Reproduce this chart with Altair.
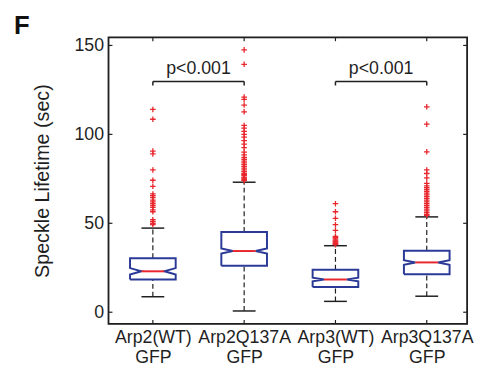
import altair as alt
import pandas as pd

# ---------------- data ----------------
positions = [1, 2, 3, 4]
cat_line1 = ["Arp2(WT)", "Arp2Q137A", "Arp3(WT)", "Arp3Q137A"]
cat_line2 = ["GFP", "GFP", "GFP", "GFP"]

q1 = [18.4, 26.1, 14.2, 21.4]
median = [23.0, 34.4, 18.4, 28.0]
q3 = [30.4, 45.1, 23.9, 34.6]
notch_half = [1.8, 1.4, 1.0, 1.3]
whisker_lo = [8.7, 0.7, 6.1, 9.0]
whisker_hi = [47.3, 73.1, 37.4, 53.6]

outliers_arp2_wt = [114, 108.5, 90.6, 89, 80, 74.2, 70.8, 66.5, 65.5, 64.5, 63,
                    62, 61, 60, 59, 57.5, 56.5, 52, 51, 50, 49.3]
outliers_arp2_q137a = [147.5, 139.4, 121, 119.7, 116.5, 112.7, 105, 103.5, 101.7,
                       100, 98.5, 96.5, 94.5, 92.5, 90, 88.5, 87, 86, 85, 84, 83,
                       82, 81, 80, 79, 78, 77.5, 77, 76, 75.5, 75, 74.5, 74]
outliers_arp3_wt = [61, 56.5, 52.8, 49.2, 46, 42.7, 42, 41.3, 40.5, 40, 39.5, 39,
                    38.5, 38]
outliers_arp3_q137a = [115.5, 105.7, 90.2, 80, 78, 75.5, 72.5, 71, 70, 69, 68, 67,
                       66, 65, 64, 63, 62, 61, 60, 59, 58, 57, 56, 55, 54.5]
outlier_lists = [outliers_arp2_wt, outliers_arp2_q137a, outliers_arp3_wt,
                 outliers_arp3_q137a]

y_ticks = [0, 50, 100, 150]

sig_left = [1, 3]
sig_right = [2, 4]
sig_text = ["p<0.001", "p<0.001"]
sig_bar = [129.7, 129.7]
sig_leg_end = [127.5, 127.5]
sig_text_y = [133.9, 133.9]

panel_letter = "F"

# ---------------- styling ----------------
W, H = 364, 291
X_DOMAIN = [0.514, 4.442]
Y_DOMAIN = [-6.6, 154.6]
BOX_HALF = 0.25
NOTCH_HALF = 0.125
FONT = "Liberation Sans"
BLUE = "#2b3a96"
RED = "#e8262d"
INK = "#1f1f1f"
TICK = 4

# ---------------- tables ----------------
boxes = pd.DataFrame({
    "pos": positions, "q1": q1, "med": median, "q3": q3, "nh": notch_half,
    "wlo": whisker_lo, "whi": whisker_hi,
})
boxes["nlo"] = boxes["med"] - boxes["nh"]
boxes["nhi"] = boxes["med"] + boxes["nh"]
boxes["xl"] = boxes["pos"] - BOX_HALF
boxes["xr"] = boxes["pos"] + BOX_HALF
boxes["ml"] = boxes["pos"] - NOTCH_HALF
boxes["mr"] = boxes["pos"] + NOTCH_HALF

outline_rows = []
for _, b in boxes.iterrows():
    pts = [
        (b.xl, b.q1), (b.xl, b.nlo), (b.ml, b.med), (b.xl, b.nhi), (b.xl, b.q3),
        (b.xr, b.q3), (b.xr, b.nhi), (b.mr, b.med), (b.xr, b.nlo), (b.xr, b.q1),
        (b.xl, b.q1),
    ]
    for i, (px, py) in enumerate(pts):
        outline_rows.append({"box": int(b.pos), "i": i, "x": px, "y": py})
outline = pd.DataFrame(outline_rows)

out_rows = []
for p, vals in zip(positions, outlier_lists):
    for v in vals:
        out_rows.append({"pos": p, "v": v})
outs = pd.DataFrame(out_rows)

sig = pd.DataFrame({"x1": sig_left, "x2": sig_right, "bar": sig_bar,
                    "leg": sig_leg_end, "ty": sig_text_y, "label": sig_text})
sig["mid"] = (sig["x1"] + sig["x2"]) / 2

yt = pd.DataFrame({"v": y_ticks})
xt = pd.DataFrame({"v": positions})

# ---------------- scales / axes ----------------
label_expr = ""
for p, a, b in zip(positions, cat_line1, cat_line2):
    label_expr += f"datum.value == {p} ? ['{a}', '{b}'] : "
label_expr += "''"

XS = alt.Scale(domain=X_DOMAIN, nice=False, zero=False)
YS = alt.Scale(domain=Y_DOMAIN, nice=False, zero=False)
XA = alt.Axis(values=positions, labelExpr=label_expr, ticks=False, tickSize=0,
              domain=False, grid=False, labelFont=FONT, labelFontSize=18,
              labelColor=INK, labelPadding=5, labelLineHeight=20,
              labelBaseline="top", labelAngle=0, labelOverlap=False,
              labelFlush=False, title=None)
YA = alt.Axis(values=y_ticks, ticks=False, tickSize=0, domain=False, grid=False,
              labelFont=FONT, labelFontSize=18, labelColor=INK, labelPadding=5,
              labelFlush=False, labelOverlap=False,
              title="Speckle Lifetime (sec)", titleFont=FONT, titleFontSize=20,
              titleFontWeight="normal", titleColor=INK, titleAngle=270,
              titleX=-61, titleY=H / 2, titleAlign="center",
              titleBaseline="alphabetic")


def X(field):
    return alt.X(field, type="quantitative", scale=XS, axis=XA)


def Y(field):
    return alt.Y(field, type="quantitative", scale=YS, axis=YA)


base_box = alt.Chart(boxes)

whisk_up = base_box.mark_rule(color=INK, strokeWidth=1.2, strokeDash=[5, 3]).encode(
    x=X("pos"), y=Y("q3"), y2="whi")
whisk_dn = base_box.mark_rule(color=INK, strokeWidth=1.2, strokeDash=[5, 3]).encode(
    x=X("pos"), y=Y("wlo"), y2="q1")
cap_up = base_box.mark_rule(color=INK, strokeWidth=1.5).encode(
    x=X("ml"), x2="mr", y=Y("whi"))
cap_dn = base_box.mark_rule(color=INK, strokeWidth=1.5).encode(
    x=X("ml"), x2="mr", y=Y("wlo"))

points = alt.Chart(outs).mark_point(
    shape="M-1,0L1,0M0,-1L0,1", size=32, filled=False, stroke=RED,
    strokeWidth=1.3, opacity=1).encode(x=X("pos"), y=Y("v"))

box_lines = alt.Chart(outline).mark_line(color=BLUE, strokeWidth=2).encode(
    x=X("x"), y=Y("y"), detail="box:N", order="i:Q")

med_lines = base_box.mark_rule(color=RED, strokeWidth=2).encode(
    x=X("ml"), x2="mr", y=Y("med"))

sig_base = alt.Chart(sig)
sig_h = sig_base.mark_rule(color=INK, strokeWidth=1.5).encode(
    x=X("x1"), x2="x2", y=Y("bar"))
sig_l = sig_base.mark_rule(color=INK, strokeWidth=1.5).encode(
    x=X("x1"), y=Y("bar"), y2="leg")
sig_r = sig_base.mark_rule(color=INK, strokeWidth=1.5).encode(
    x=X("x2"), y=Y("bar"), y2="leg")
sig_t = sig_base.mark_text(font=FONT, fontSize=18, color=INK,
                           baseline="alphabetic", align="center").encode(
    x=X("mid"), y=Y("ty"), text="label:N")

ytick_l = alt.Chart(yt).mark_rule(color=INK, strokeWidth=1.2).encode(
    y=Y("v"), x=alt.value(0), x2=alt.value(TICK))
ytick_r = alt.Chart(yt).mark_rule(color=INK, strokeWidth=1.2).encode(
    y=Y("v"), x=alt.value(W - TICK), x2=alt.value(W))
xtick_b = alt.Chart(xt).mark_rule(color=INK, strokeWidth=1.2).encode(
    x=X("v"), y=alt.value(H - TICK), y2=alt.value(H))
xtick_t = alt.Chart(xt).mark_rule(color=INK, strokeWidth=1.2).encode(
    x=X("v"), y=alt.value(0), y2=alt.value(TICK))

frame = alt.Chart(alt.Data(values=[{"f": 1}])).mark_rect(
    fill=None, stroke=INK, strokeWidth=1.8).encode(
    x=alt.value(0), x2=alt.value(W), y=alt.value(0), y2=alt.value(H))

letter = alt.Chart(alt.Data(values=[{"t": panel_letter}])).mark_text(
    font=FONT, fontSize=26, fontWeight="bold", color="#111", align="left",
    baseline="alphabetic").encode(text="t:N", x=alt.value(-96), y=alt.value(-3))

chart = alt.layer(
    whisk_up, whisk_dn, cap_up, cap_dn, points, box_lines, med_lines,
    sig_h, sig_l, sig_r, sig_t, ytick_l, ytick_r, xtick_b, xtick_t, frame, letter,
).properties(
    width=W, height=H,
    autosize=alt.AutoSizeParams(type="none"),
    padding={"left": 102, "top": 27, "right": 7, "bottom": 42},
).configure_view(strokeWidth=0).configure(background="white")

chart.save("out.html", embed_options={"renderer": "svg", "actions": False})
